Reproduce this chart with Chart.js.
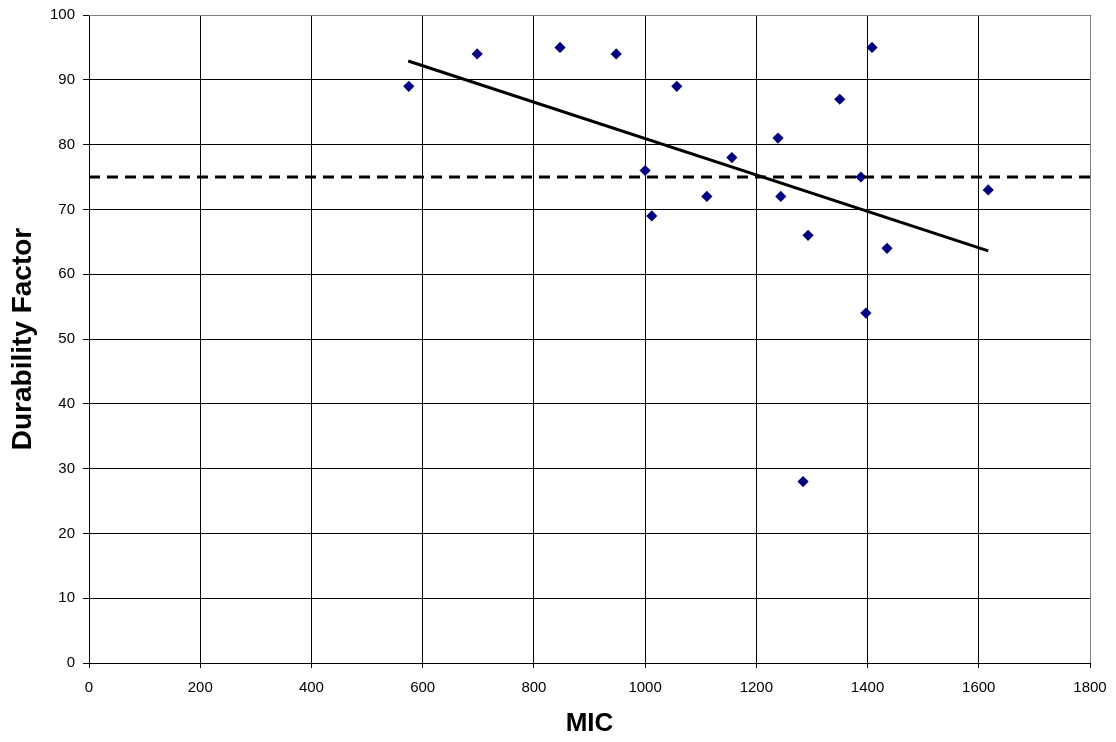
<!DOCTYPE html>
<html>
<head>
<meta charset="utf-8">
<script src="https://cdn.jsdelivr.net/npm/chart.js@4.4.0/dist/chart.umd.min.js"></script>
<style>
  body { margin: 0; background: #fff; }
  canvas { display: block; }
</style>
</head>
<body>
<canvas id="chart" width="1116" height="742"></canvas>
<script>
// MIC vs durability factor
const micValues = [575, 698, 847, 948, 1000, 1012, 1057, 1111, 1156, 1239, 1244, 1284, 1293, 1350, 1388, 1397, 1408, 1435, 1617];
const durability = [89, 94, 95, 94, 76, 69, 89, 72, 78, 81, 72, 28, 66, 87, 75, 54, 95, 64, 73];
const trendX = [574, 1617];
const trendY = [92.9, 63.6];
const limitX = [0, 1800];
const limitY = [75, 75];

const FONT = 'Arial, "Liberation Sans", sans-serif';

const ctx = document.getElementById('chart').getContext('2d');

const borderPlugin = {
    id: 'border',
    afterDatasetsDraw(chart) {
        const a = chart.chartArea;
        const c = chart.ctx;
        c.save();
        c.strokeStyle = '#808080';
        c.lineWidth = 1;
        c.beginPath();
        c.moveTo(a.left, a.top + 0.5);
        c.lineTo(a.right + 0.5, a.top + 0.5);
        c.lineTo(a.right + 0.5, a.bottom);
        c.stroke();
        c.restore();
    }
};

new Chart(ctx, {
    type: 'scatter',
    data: {
        datasets: [
            {
                data: limitX.map((x, i) => ({ x: x, y: limitY[i] })),
                type: 'line',
                borderColor: '#000',
                borderWidth: 3,
                borderDash: [11, 7],
                pointRadius: 0,
                fill: false
            },
            {
                data: trendX.map((x, i) => ({ x: x, y: trendY[i] })),
                type: 'line',
                borderColor: '#000',
                borderWidth: 3,
                pointRadius: 0,
                fill: false
            },
            {
                data: micValues.map((x, i) => ({ x: x, y: durability[i] })),
                pointStyle: 'rectRot',
                pointRadius: 5.6,
                backgroundColor: '#000080',
                borderColor: '#000080',
                borderWidth: 0
            }
        ]
    },
    options: {
        responsive: false,
        animation: false,
        layout: { padding: { top: 15, right: 26, left: 0, bottom: 0 } },
        plugins: {
            legend: { display: false },
            tooltip: { enabled: false }
        },
        scales: {
            x: {
                type: 'linear',
                min: 0,
                max: 1800,
                ticks: { stepSize: 200, color: '#000', font: { family: FONT, size: 15 }, maxRotation: 0, padding: 11, callback: v => String(v) },
                grid: { color: '#000', lineWidth: 1, tickLength: 5 },
                border: { color: '#000', width: 1 },
                title: { display: true, text: 'MIC', color: '#000', font: { family: FONT, size: 26, weight: 'bold' }, padding: { top: 4, bottom: 3 } },
                afterFit(scale) {
                    scale.height = 79;
                    scale.paddingLeft = 0;
                    scale.paddingRight = 0;
                }
            },
            y: {
                min: 0,
                max: 100,
                ticks: { stepSize: 10, color: '#000', font: { family: FONT, size: 15 }, padding: 8, callback: v => String(v) },
                grid: { color: '#000', lineWidth: 1, tickLength: 6 },
                border: { color: '#000', width: 1 },
                title: { display: true, text: 'Durability Factor', color: '#000', font: { family: FONT, size: 28, weight: 'bold' }, padding: { top: 6, bottom: 4 } },
                afterFit(scale) {
                    scale.width = 89;
                    scale.paddingTop = 0;
                    scale.paddingBottom = 0;
                }
            }
        }
    },
    plugins: [borderPlugin]
});
</script>
</body>
</html>
